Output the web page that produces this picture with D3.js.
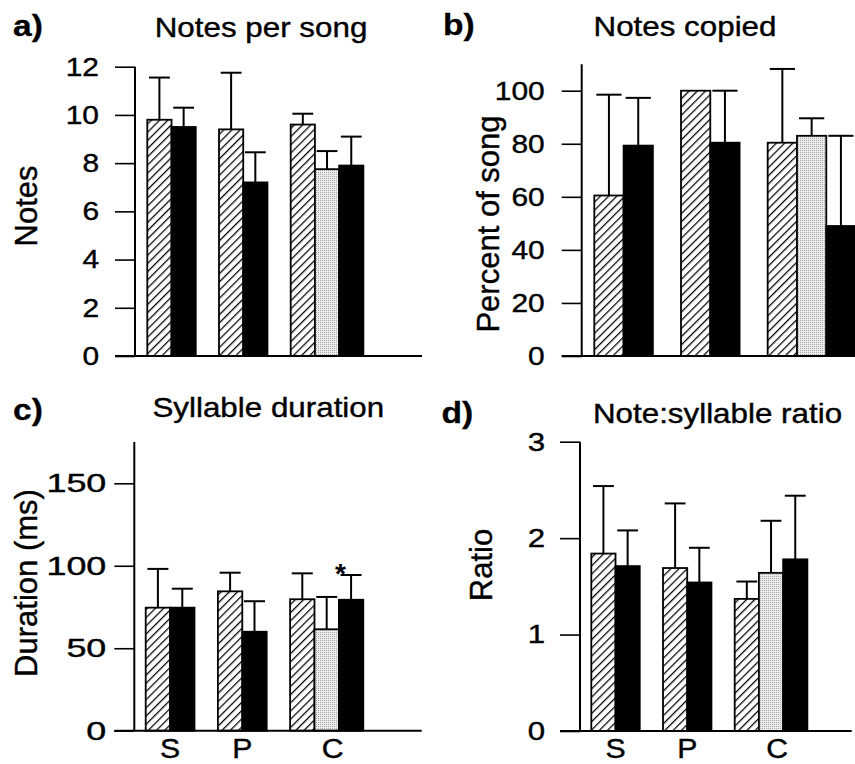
<!DOCTYPE html>
<html>
<head>
<meta charset="utf-8">
<script src="https://cdnjs.cloudflare.com/ajax/libs/d3/7.8.5/d3.min.js"></script>
<style>
  body { margin: 0; background: #fff; }
  svg { display: block; }
</style>
</head>
<body>
<script>
// groups along the x axis and which bar types each group has
var groups = ["S", "P", "C"];
var barTypes = [["hatch", "black"], ["hatch", "black"], ["hatch", "gray", "black"]];

// a) notes per song
var notesMean = [[9.8, 9.5], [9.4, 7.2], [9.6, 7.75, 7.9]];
var notesSd = [[1.75, 0.8], [2.35, 1.25], [0.45, 0.75, 1.2]];
var notesTicks = [0, 2, 4, 6, 8, 10, 12];

// b) notes copied (percent of song)
var copiedMean = [[60.5, 79.3], [100, 80.4], [80.4, 83, 49]];
var copiedSd = [[38, 18], [0, 19.6], [27.8, 6.6, 34]];
var copiedTicks = [0, 20, 40, 60, 80, 100];

// c) syllable duration (ms)
var durationMean = [[74.6, 74.6], [84.5, 60], [79.7, 61.5, 79.4]];
var durationSd = [[23.5, 11.5], [11.3, 18.5], [15.7, 19.6, 15]];
var durationTicks = [0, 50, 100, 150];

// d) note:syllable ratio
var ratioMean = [[1.84, 1.71], [1.69, 1.54], [1.37, 1.64, 1.78]];
var ratioSd = [[0.70, 0.37], [0.67, 0.36], [0.18, 0.54, 0.66]];
var ratioTicks = [0, 1, 2, 3];

var font = "'Liberation Sans', Arial, Helvetica, sans-serif";

var svg = d3.select("body").append("svg")
    .attr("width", 855)
    .attr("height", 764);

// fill patterns
var defs = svg.append("defs");
var hatch = defs.append("pattern")
    .attr("id", "hatch")
    .attr("patternUnits", "userSpaceOnUse")
    .attr("width", 5.8)
    .attr("height", 5.8)
    .attr("patternTransform", "rotate(45)");
hatch.append("rect").attr("width", 5.8).attr("height", 5.8).attr("fill", "#fff");
hatch.append("line")
    .attr("x1", 0).attr("y1", 0).attr("x2", 0).attr("y2", 5.8)
    .attr("stroke", "#000").attr("stroke-width", 2.5);

var dots = defs.append("pattern")
    .attr("id", "dots")
    .attr("patternUnits", "userSpaceOnUse")
    .attr("width", 2)
    .attr("height", 2);
dots.append("rect").attr("width", 2).attr("height", 2).attr("fill", "#ececec");
dots.append("rect").attr("width", 1).attr("height", 1).attr("fill", "#a8a8a8");

var fills = { hatch: "url(#hatch)", gray: "url(#dots)", black: "#000" };

var panels = [
  { letter: "a)", title: "Notes per song", ylabel: "Notes", mean: notesMean, sd: notesSd, ticks: notesTicks,
    axisTop: 12, axisX: 135, base: 356, top: 66.7, x0: 147.3, spacing: 71.7, right: 422,
    tickPad: 16, tickScale: 1.15,
    titleX: 261, titleY: 36.5, letterX: 13, letterY: 36, ylabelX: 37, ylabelY: 206, xLabels: false },
  { letter: "b)", title: "Notes copied", ylabel: "Percent of song", mean: copiedMean, sd: copiedSd, ticks: copiedTicks,
    axisTop: 110, axisX: 581.7, base: 356, top: 90.7, x0: 594.3, spacing: 86.7, right: 855,
    tickPad: 17, tickScale: 1.15,
    titleX: 685, titleY: 36, letterX: 443, letterY: 35, ylabelX: 499, ylabelY: 224, xLabels: false },
  { letter: "c)", title: "Syllable duration", ylabel: "Duration (ms)", mean: durationMean, sd: durationSd, ticks: durationTicks,
    axisTop: 175, axisX: 134.3, base: 730.7, top: 483.3, x0: 145.7, spacing: 72.2, right: 421.7,
    tickPad: 8, tickScale: 1.38,
    titleX: 268.3, titleY: 416.7, letterX: 13, letterY: 420, ylabelX: 37, ylabelY: 583, xLabels: true,
    star: { group: 2, bar: 2 } },
  { letter: "d)", title: "Note:syllable ratio", ylabel: "Ratio", mean: ratioMean, sd: ratioSd, ticks: ratioTicks,
    axisTop: 3, axisX: 580, base: 731, top: 441.7, x0: 591.3, spacing: 71.7, right: 851.7,
    tickPad: 15, tickScale: 1.2,
    titleX: 717.5, titleY: 423, letterX: 441.5, letterY: 423, ylabelX: 491.7, ylabelY: 565, xLabels: true }
];

// slightly heavier text, like the printed figure
function ink(sel, w) {
  return sel.attr("fill", "#000").attr("stroke", "#000").attr("stroke-width", w);
}

panels.forEach(function(p) {
  var g = svg.append("g");
  var tmax = d3.max(p.ticks);

  var y = d3.scaleLinear().domain([0, tmax]).range([p.base, p.top]);
  var x = d3.scaleBand().domain(groups)
      .range([p.x0, p.x0 + 3 * p.spacing])
      .paddingInner(0).paddingOuter(0);
  var bw = p.spacing / 2.96;

  // flatten bars
  var bars = [];
  groups.forEach(function(grp, gi) {
    p.mean[gi].forEach(function(m, bi) {
      bars.push({ group: grp, gi: gi, bi: bi, type: barTypes[gi][bi], mean: m, sd: p.sd[gi][bi] });
    });
  });

  g.selectAll("rect.bar")
    .data(bars)
    .enter()
    .append("rect")
    .attr("class", "bar")
    .attr("x", function(d) { return x(d.group) + d.bi * bw; })
    .attr("y", function(d) { return y(d.mean); })
    .attr("width", bw)
    .attr("height", function(d) { return y(0) - y(d.mean); })
    .attr("fill", function(d) { return fills[d.type]; })
    .attr("stroke", "#000")
    .attr("stroke-width", 1.8);

  // error bars (upper only)
  var errs = bars.filter(function(d) { return d.sd > 0; });
  var cx = function(d) { return x(d.group) + (d.bi + 0.5) * bw; };
  g.selectAll("line.err")
    .data(errs)
    .enter()
    .append("line")
    .attr("class", "err")
    .attr("x1", cx).attr("x2", cx)
    .attr("y1", function(d) { return y(d.mean); })
    .attr("y2", function(d) { return y(d.mean + d.sd); })
    .attr("stroke", "#000")
    .attr("stroke-width", 2);
  g.selectAll("line.cap")
    .data(errs)
    .enter()
    .append("line")
    .attr("class", "cap")
    .attr("x1", function(d) { return cx(d) - bw * 0.43; })
    .attr("x2", function(d) { return cx(d) + bw * 0.43; })
    .attr("y1", function(d) { return y(d.mean + d.sd); })
    .attr("y2", function(d) { return y(d.mean + d.sd); })
    .attr("stroke", "#000")
    .attr("stroke-width", 2);

  // y axis
  var axis = g.append("g")
    .attr("transform", "translate(" + p.axisX + ",0)")
    .call(d3.axisLeft(y).tickValues(p.ticks).tickSize(20).tickSizeOuter(0).tickFormat(d3.format("d")));
  axis.select(".domain").remove();
  axis.selectAll(".tick line").attr("stroke", "#000").attr("stroke-width", 1.6);
  axis.selectAll(".tick text")
    .attr("x", 0)
    .attr("font-family", font)
    .attr("font-size", 26)
    .attr("transform", "translate(" + (-(20 + p.tickPad)) + ",0) scale(" + p.tickScale + ",1)")
    .call(ink, 0.4);

  g.append("line")
    .attr("x1", p.axisX).attr("x2", p.axisX)
    .attr("y1", y(p.axisTop)).attr("y2", y(0))
    .attr("stroke", "#000").attr("stroke-width", 2);
  g.append("line")
    .attr("x1", p.axisX - 20).attr("x2", p.right)
    .attr("y1", y(0)).attr("y2", y(0))
    .attr("stroke", "#000").attr("stroke-width", 2);

  // x labels
  if (p.xLabels) {
    g.selectAll("text.xl")
      .data(groups)
      .enter()
      .append("text")
      .attr("class", "xl")
      .attr("text-anchor", "middle")
      .attr("font-family", font)
      .attr("font-size", 27)
      .attr("transform", function(d, i) {
        var n = barTypes[i].length;
        var lx = x(d) + (n === 3 ? 1.75 : 1) * bw;
        return "translate(" + lx + "," + (p.base + 27) + ") scale(1.12,1)";
      })
      .text(function(d) { return d; })
      .call(ink, 0.4);
  }

  // significance star
  if (p.star) {
    var gs = groups[p.star.group];
    var top = p.mean[p.star.group][p.star.bar] + p.sd[p.star.group][p.star.bar];
    g.append("text")
      .attr("text-anchor", "middle")
      .attr("font-family", font)
      .attr("font-weight", "bold")
      .attr("font-size", 28)
      .attr("transform", "translate(" + (x(gs) + p.star.bar * bw + 1.5) + "," + (y(top) + 8) + ")")
      .text("*");
  }

  // titles
  g.append("text")
    .attr("text-anchor", "middle")
    .attr("font-family", font)
    .attr("font-size", 28)
    .attr("transform", "translate(" + p.titleX + "," + p.titleY + ") scale(1.12,1)")
    .text(p.title)
    .call(ink, 0.4);
  g.append("text")
    .attr("font-family", font)
    .attr("font-weight", "bold")
    .attr("font-size", 30)
    .attr("transform", "translate(" + p.letterX + "," + p.letterY + ") scale(1.12,1)")
    .text(p.letter)
    .call(ink, 0.3);
  g.append("text")
    .attr("text-anchor", "middle")
    .attr("font-family", font)
    .attr("font-size", 31)
    .attr("transform", "translate(" + p.ylabelX + "," + p.ylabelY + ") rotate(-90)")
    .text(p.ylabel)
    .call(ink, 0.4);
});
</script>
</body>
</html>
